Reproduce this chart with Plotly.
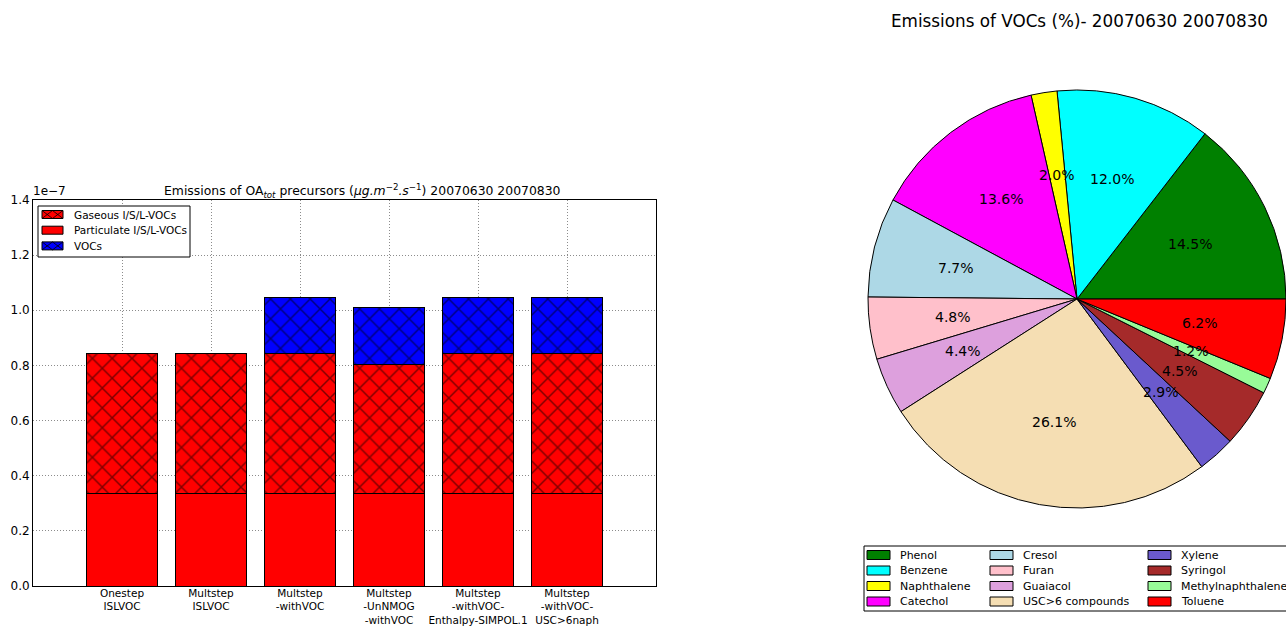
import math
import plotly.graph_objects as go

# ---- stacked bar data (units: ug m-2 s-1) ----
scenarios = [
    "Onestep<br>ISLVOC",
    "Multstep<br>ISLVOC",
    "Multstep<br>-withVOC",
    "Multstep<br>-UnNMOG<br>-withVOC",
    "Multstep<br>-withVOC-<br>Enthalpy-SIMPOL.1",
    "Multstep<br>-withVOC-<br>USC>6naph",
]
particulate_isvoc = [0.336e-7, 0.336e-7, 0.336e-7, 0.336e-7, 0.336e-7, 0.336e-7]
gaseous_isvoc = [0.507e-7, 0.507e-7, 0.507e-7, 0.467e-7, 0.507e-7, 0.507e-7]
vocs = [0.0, 0.0, 0.202e-7, 0.206e-7, 0.202e-7, 0.202e-7]

y_tickvals = [0.0, 0.2e-7, 0.4e-7, 0.6e-7, 0.8e-7, 1.0e-7, 1.2e-7, 1.4e-7]
y_ticktext = ["0.0", "0.2", "0.4", "0.6", "0.8", "1.0", "1.2", "1.4"]

# ---- pie data (% of VOC emissions) ----
voc_species = ["Phenol", "Benzene", "Naphthalene", "Catechol", "Cresol", "Furan",
               "Guaiacol", "USC>6 compounds", "Xylene", "Syringol",
               "Methylnaphthalene", "Toluene"]
voc_share = [14.5, 12.0, 2.0, 13.6, 7.7, 4.8, 4.4, 26.1, 2.9, 4.5, 1.2, 6.2]
voc_colors = ["#008000", "#00FFFF", "#FFFF00", "#FF00FF", "#ADD8E6", "#FFC0CB",
              "#DDA0DD", "#F5DEB3", "#6A5ACD", "#A52A2A", "#98FB98", "#FF0000"]

W, H = 1286, 626
FONT = "DejaVu Sans"


def px(x):
    return x / W


def py(y):
    return 1 - y / H


fig = go.Figure()

hatch = dict(shape="x", fgcolor="black", size=14, solidity=0.2)
outline = dict(color="black", width=1)

# stacking order bottom -> top; legend order given separately
bar_series = [
    ("Particulate I/S/L-VOCs", particulate_isvoc, "#FF0000", False),
    ("Gaseous I/S/L-VOCs", gaseous_isvoc, "#FF0000", True),
    ("VOCs", vocs, "#0000FF", True),
]
legend_order = ["Gaseous I/S/L-VOCs", "Particulate I/S/L-VOCs", "VOCs"]

for name, vals, color, hatched in bar_series:
    marker = dict(color=color, line=outline)
    if hatched:
        marker["pattern"] = dict(bgcolor=color, **hatch)
    fig.add_trace(go.Bar(x=scenarios, y=vals, name=name, marker=marker,
                         width=0.8, showlegend=False))

# pie geometry (pixels)
PIE_X0, PIE_X1, PIE_CY = 868, 1286, 299
PIE_CX = (PIE_X0 + PIE_X1) / 2
PIE_R = (PIE_X1 - PIE_X0) / 2
pie_dom_x = [px(PIE_X0), px(PIE_X1)]
pie_dom_y = [py(PIE_CY + 228), py(PIE_CY - 228)]

total = sum(voc_share)
# with counterclockwise direction plotly puts the first slice clockwise of
# `rotation`; shift so the first slice starts at 3 o'clock
first_angle = 360.0 * voc_share[0] / total

fig.add_trace(go.Pie(
    labels=voc_species, values=voc_share, sort=False,
    direction="counterclockwise", rotation=90 - first_angle,
    marker=dict(colors=voc_colors, line=dict(color="black", width=1)),
    textinfo="none", hoverinfo="label+percent", showlegend=False,
    domain=dict(x=pie_dom_x, y=pie_dom_y),
))

annotations = []
shapes = []

# percentage labels at 0.6 radius, mid-angle of each slice
cum = 0.0
for v in voc_share:
    mid = 2 * math.pi * (cum + v / 2) / total
    cum += v
    lx = PIE_CX + 0.6 * PIE_R * math.cos(mid)
    ly = PIE_CY - 0.6 * PIE_R * math.sin(mid)
    annotations.append(dict(
        x=px(lx), y=py(ly), xref="paper", yref="paper", showarrow=False,
        text=f"{v / total * 100:.1f}%", font=dict(family=FONT, size=14, color="black"),
        xanchor="center", yanchor="middle",
    ))

# pie title
annotations.append(dict(
    x=px(1079), y=py(21), xref="paper", yref="paper", showarrow=False,
    text="Emissions of VOCs (%)- 20070630 20070830",
    font=dict(family=FONT, size=16.8, color="black"), xanchor="center", yanchor="middle",
))

# bar chart title
annotations.append(dict(
    x=px(362), y=py(191), xref="paper", yref="paper", showarrow=False,
    text="Emissions of OA<sub><i>tot</i></sub> precursors (<i>μg.m</i><sup>−2</sup><i>.s</i><sup>−1</sup>) 20070630 20070830",
    font=dict(family=FONT, size=12.4, color="black"), xanchor="center", yanchor="middle",
))

# axis offset text
annotations.append(dict(
    x=px(31), y=py(200), xref="paper", yref="paper", showarrow=False,
    text="1e−7", font=dict(family=FONT, size=12, color="black"),
    xanchor="left", yanchor="bottom",
))


def hatch_path(x0, x1, y0, y1, cells):
    """Cross-hatch lines for a legend swatch (pixel coords -> paper path)."""
    step = (x1 - x0) / cells
    parts = []
    for k in range(cells):
        a, b = x0 + k * step, x0 + (k + 1) * step
        parts.append(f"M{px(a)},{py(y0)} L{px(b)},{py(y1)}")
        parts.append(f"M{px(b)},{py(y0)} L{px(a)},{py(y1)}")
    return " ".join(parts)


# bar chart legend
shapes.append(dict(type="rect", xref="paper", yref="paper",
                   x0=px(38), x1=px(190), y0=py(257), y1=py(206),
                   line=dict(color="black", width=1), fillcolor="white", layer="above"))
series_style = {name: (color, hatched) for name, _, color, hatched in bar_series}
for r, name in enumerate(legend_order):
    color, hatched = series_style[name]
    sy = 214.5 + r * 15.7
    sx0, sx1 = 42, 63
    shapes.append(dict(type="rect", xref="paper", yref="paper",
                       x0=px(sx0), x1=px(sx1), y0=py(sy + 4), y1=py(sy - 4),
                       line=dict(color="black", width=1), fillcolor=color, layer="above"))
    if hatched:
        shapes.append(dict(type="path", xref="paper", yref="paper",
                           path=hatch_path(sx0, sx1, sy - 4, sy + 4, 2),
                           line=dict(color="black", width=0.8), layer="above"))
    annotations.append(dict(
        x=px(72), y=py(sy), xref="paper", yref="paper", showarrow=False,
        text=name, font=dict(family=FONT, size=10.5, color="black"),
        xanchor="left", yanchor="middle",
    ))

# pie legend: 3 columns x 4 rows, filled column by column
shapes.append(dict(type="rect", xref="paper", yref="paper",
                   x0=px(864), x1=px(1300), y0=py(611), y1=py(546),
                   line=dict(color="black", width=1), fillcolor="white", layer="above"))
col_x = [867, 990, 1148]
for i, (name, col) in enumerate(zip(voc_species, voc_colors)):
    c, r = divmod(i, 4)
    sx = col_x[c]
    sy = 555 + r * 15.5
    shapes.append(dict(type="rect", xref="paper", yref="paper",
                       x0=px(sx), x1=px(sx + 23), y0=py(sy + 4.5), y1=py(sy - 4.5),
                       line=dict(color="black", width=1), fillcolor=col, layer="above"))
    annotations.append(dict(
        x=px(sx + 31), y=py(sy), xref="paper", yref="paper", showarrow=False,
        text=name, font=dict(family=FONT, size=11, color="black"),
        xanchor="left", yanchor="middle",
    ))

grid = dict(showgrid=True, gridcolor="#8c8c8c", griddash="1px,2px", gridwidth=1)

fig.update_layout(
    width=W, height=H,
    margin=dict(l=0, r=0, t=0, b=0),
    paper_bgcolor="white", plot_bgcolor="white",
    barmode="stack", bargap=0.2, showlegend=False,
    font=dict(family=FONT, size=11, color="black"),
    xaxis=dict(
        domain=[px(33), px(656)], range=[-1, 6], automargin=False,
        showline=True, mirror=True, linecolor="black", linewidth=1,
        ticks="", ticklabelstandoff=-3,
        tickfont=dict(family=FONT, size=10.5, color="black"), **grid,
    ),
    yaxis=dict(
        domain=[py(586), py(200)], range=[0, 1.4e-7], automargin=False,
        showline=True, mirror=True, linecolor="black", linewidth=1,
        zeroline=False, ticks="", tickvals=y_tickvals, ticktext=y_ticktext,
        tickfont=dict(family=FONT, size=12, color="black"), **grid,
    ),
    annotations=annotations,
    shapes=shapes,
)

fig.write_html("out.html")
